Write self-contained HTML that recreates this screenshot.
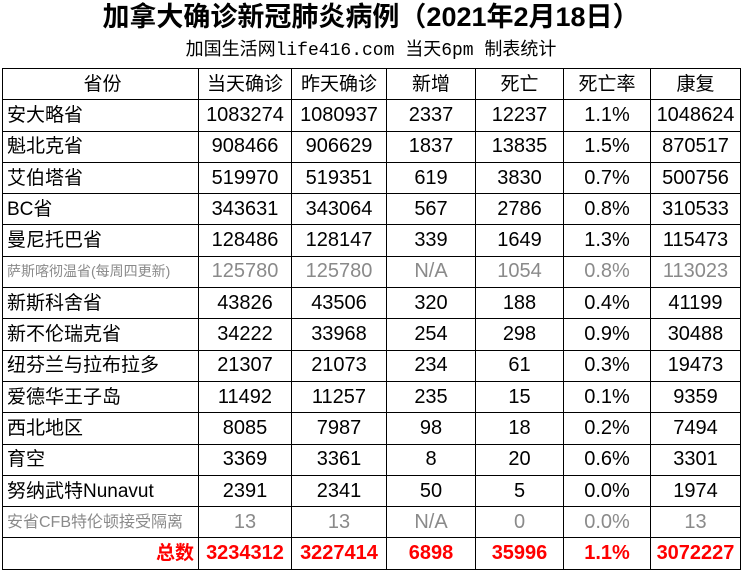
<!DOCTYPE html>
<html><head><meta charset="utf-8"><style>
body{margin:0;width:742px;height:583px;background:#fff;font-family:"Liberation Sans","Noto Sans CJK SC",sans-serif;position:relative;overflow:hidden}
.t{position:absolute;left:0;width:742px;top:1px;text-align:center;font-size:27px;font-weight:bold;line-height:32px}
.s{position:absolute;left:0;width:742px;top:40px;text-align:center;font-size:18px;font-family:"Liberation Mono","Noto Sans CJK SC",monospace;line-height:22px}
table{position:absolute;left:2px;top:68px;border-collapse:collapse;table-layout:fixed}
td{border:1.5px solid #000;height:30.3px;padding:0;text-align:center;font-size:20px;line-height:29px;white-space:nowrap;overflow:hidden}
td:first-child{text-align:left;padding-left:4px;font-size:19px}
tr.h td{font-size:19px;text-align:center}
tr.g td{color:#8a8a8a}
tr.g td:first-child{font-size:14px}
tr.r td{color:#f00;font-weight:bold}
tr.r td:first-child{text-align:right;padding-right:4px}
</style></head><body>
<div class="t">加拿大确诊新冠肺炎病例（2021年2月18日）</div>
<div class="s">加国生活网life416.com 当天6pm 制表统计</div>
<table>
<colgroup><col style="width:196px"><col style="width:93px"><col style="width:95px"><col style="width:89px"><col style="width:88px"><col style="width:87px"><col style="width:90px"></colgroup>
<tr class="h"><td>省份</td><td>当天确诊</td><td>昨天确诊</td><td>新增</td><td>死亡</td><td>死亡率</td><td>康复</td></tr>
<tr><td>安大略省</td><td>1083274</td><td>1080937</td><td>2337</td><td>12237</td><td>1.1%</td><td>1048624</td></tr>
<tr><td>魁北克省</td><td>908466</td><td>906629</td><td>1837</td><td>13835</td><td>1.5%</td><td>870517</td></tr>
<tr><td>艾伯塔省</td><td>519970</td><td>519351</td><td>619</td><td>3830</td><td>0.7%</td><td>500756</td></tr>
<tr><td>BC省</td><td>343631</td><td>343064</td><td>567</td><td>2786</td><td>0.8%</td><td>310533</td></tr>
<tr><td>曼尼托巴省</td><td>128486</td><td>128147</td><td>339</td><td>1649</td><td>1.3%</td><td>115473</td></tr>
<tr class="g"><td>萨斯喀彻温省(每周四更新)</td><td>125780</td><td>125780</td><td>N/A</td><td>1054</td><td>0.8%</td><td>113023</td></tr>
<tr><td>新斯科舍省</td><td>43826</td><td>43506</td><td>320</td><td>188</td><td>0.4%</td><td>41199</td></tr>
<tr><td>新不伦瑞克省</td><td>34222</td><td>33968</td><td>254</td><td>298</td><td>0.9%</td><td>30488</td></tr>
<tr><td>纽芬兰与拉布拉多</td><td>21307</td><td>21073</td><td>234</td><td>61</td><td>0.3%</td><td>19473</td></tr>
<tr><td>爱德华王子岛</td><td>11492</td><td>11257</td><td>235</td><td>15</td><td>0.1%</td><td>9359</td></tr>
<tr><td>西北地区</td><td>8085</td><td>7987</td><td>98</td><td>18</td><td>0.2%</td><td>7494</td></tr>
<tr><td>育空</td><td>3369</td><td>3361</td><td>8</td><td>20</td><td>0.6%</td><td>3301</td></tr>
<tr><td>努纳武特Nunavut</td><td>2391</td><td>2341</td><td>50</td><td>5</td><td>0.0%</td><td>1974</td></tr>
<tr class="g"><td style="font-size:16px">安省CFB特伦顿接受隔离</td><td>13</td><td>13</td><td>N/A</td><td>0</td><td>0.0%</td><td>13</td></tr>
<tr class="r"><td>总数</td><td>3234312</td><td>3227414</td><td>6898</td><td>35996</td><td>1.1%</td><td>3072227</td></tr>
</table>
</body></html>
